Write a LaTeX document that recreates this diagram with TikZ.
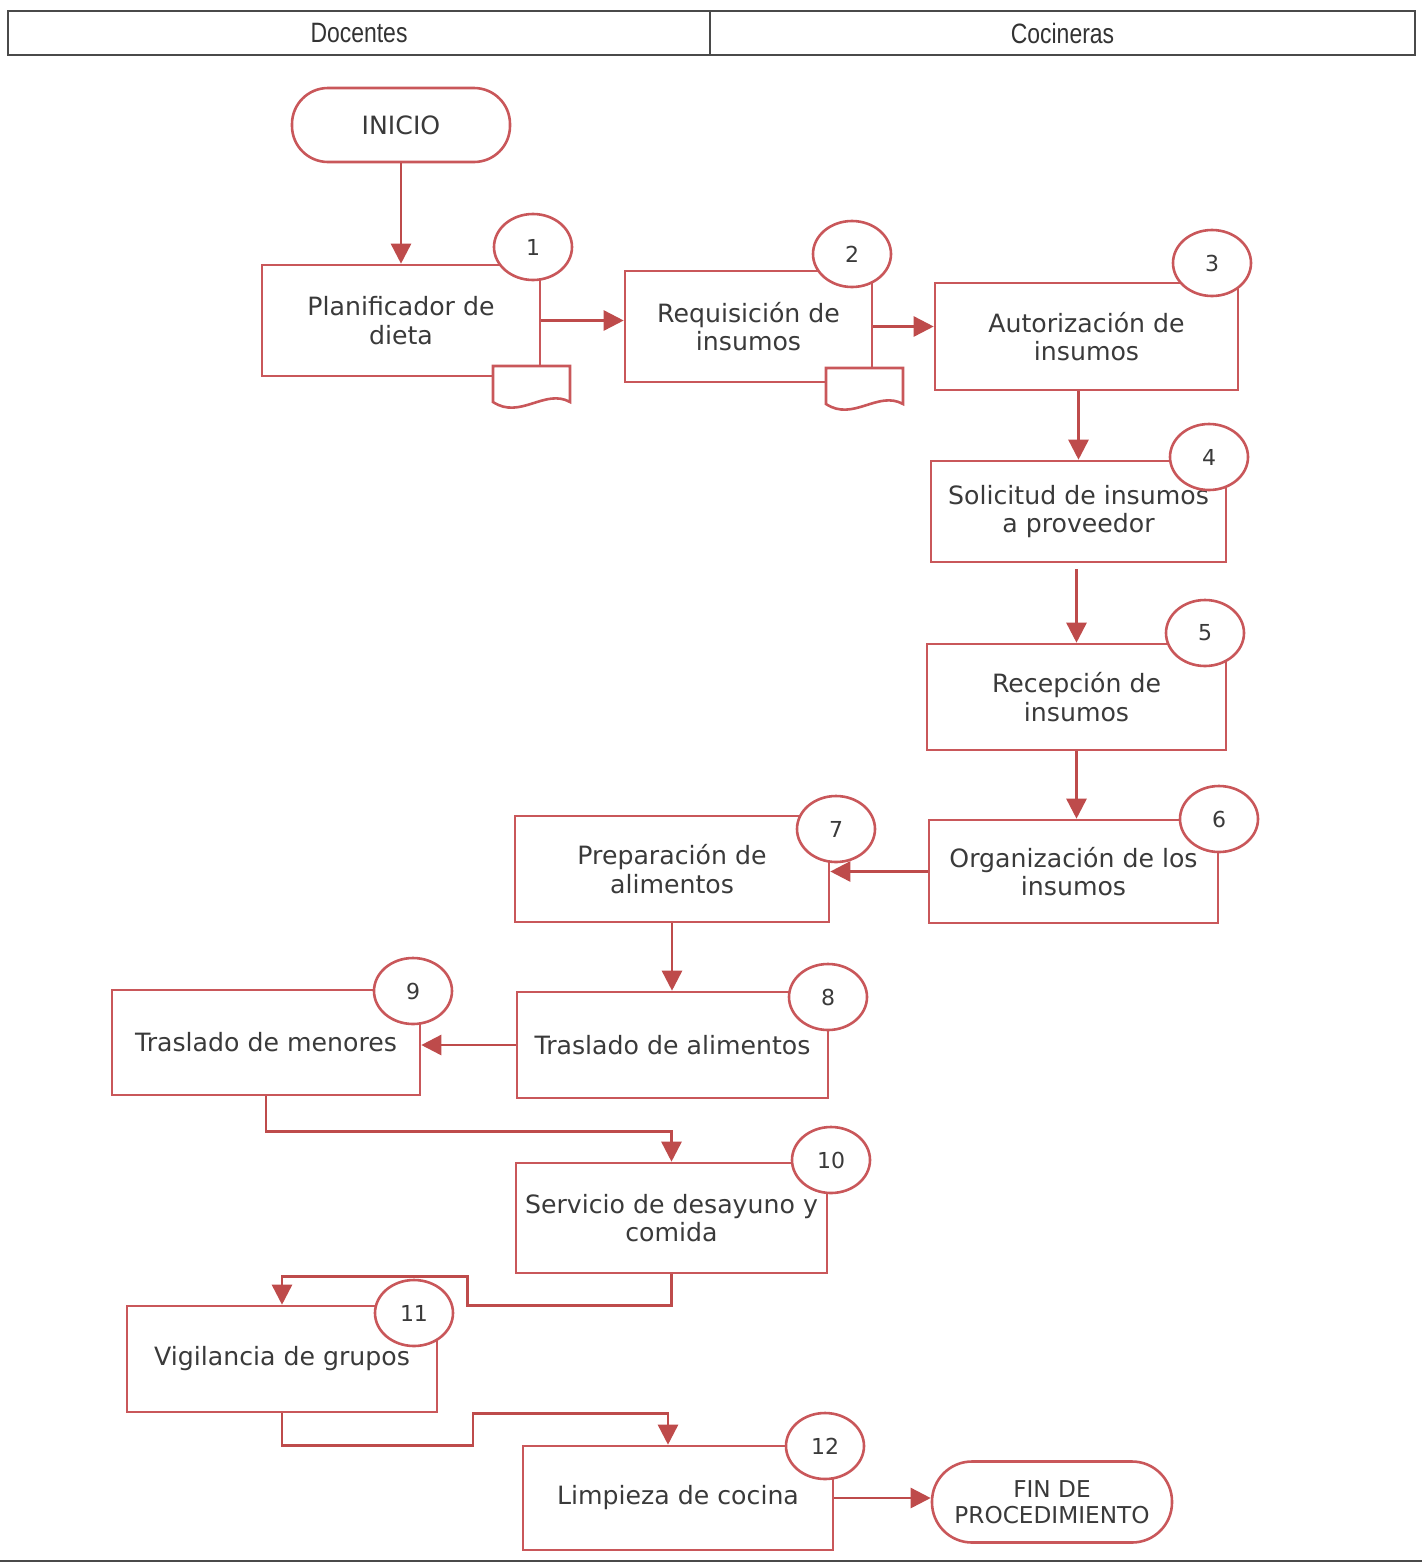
\documentclass[tikz,border=0pt]{standalone}
\usepackage{fontspec}
\usepackage{tikz}
\usetikzlibrary{arrows.meta,positioning,calc,shapes.geometric}
\newfontfamily\flujo{DejaVu Sans}
\newfontfamily\encab[FakeStretch=0.82]{Liberation Sans}
\definecolor{rojo}{HTML}{C9575A}
\definecolor{flecha}{HTML}{BE4B4B}
\definecolor{tinta}{HTML}{3A3A3A}
\definecolor{marco}{HTML}{4A4A4A}
\tikzset{
  paso/.style  ={draw=rojo, line width=1.3pt, rectangle, align=center, inner sep=2pt,
                 text=tinta, font=\flujo\fontsize{12.6}{14.4}\selectfont},
  num/.style   ={draw=rojo, line width=1.3pt, fill=white, ellipse, inner sep=0pt,
                 minimum width=39pt, minimum height=33pt, text=tinta,
                 font=\flujo\fontsize{11}{13}\selectfont},
  term/.style  ={paso, rounded corners=18pt},
  hoja/.style  ={draw=rojo, line width=1.3pt, fill=white},
  carril/.style={draw=marco, line width=1.3pt, rectangle, minimum height=22pt,
                 text=black!80, font=\encab\fontsize{14}{16}\selectfont},
  ar/.style    ={-{Triangle[length=10pt,width=10pt]}, draw=flecha, line width=1.3pt},
}
\begin{document}
\begin{tikzpicture}[x=0.5pt,y=-0.5pt]
\useasboundingbox (0,0) rectangle (1422,1564);
% encabezado
\node[carril, minimum width=351pt] (doc) at (359,33) {Docentes};
\node[carril, minimum width=352.5pt] (coc) at (1062.5,33) {Cocineras};
\draw[marco, line width=1.3pt] (0,1561) -- (1422,1561);
% inicio y fin
\node[term, minimum width=109pt, minimum height=37pt] (ini) at (401,125) {INICIO};
\node[term, minimum width=120pt, minimum height=40.5pt, rounded corners=20pt,
      font=\flujo\fontsize{11.6}{13.2}\selectfont] (fin) at (1052,1502)
  {FIN DE\\PROCEDIMIENTO};
% pasos
\node[paso, minimum width=139pt,   minimum height=55.5pt] (p1)  at (401,320.5)   {Planificador de\\dieta};
\node[paso, minimum width=123.5pt, minimum height=55.5pt] (p2)  at (748.5,326.5) {Requisición de\\insumos};
\node[paso, minimum width=151.5pt, minimum height=53.5pt] (p3)  at (1086.5,336.5){Autorización de\\insumos};
\node[paso, minimum width=147.5pt, minimum height=50.5pt] (p4)  at (1078.5,511.5){Solicitud de insumos\\a proveedor};
\node[paso, minimum width=149.5pt, minimum height=53pt]   (p5)  at (1076.5,697)  {Recepción de\\insumos};
\node[paso, minimum width=144.5pt, minimum height=51.5pt] (p6)  at (1073.5,871.5){Organización de los\\insumos};
\node[paso, minimum width=157pt,   minimum height=53pt]   (p7)  at (672,869)     {Preparación de\\alimentos};
\node[paso, minimum width=155.5pt, minimum height=53pt]   (p8)  at (672.5,1045)  {Traslado de alimentos};
\node[paso, minimum width=154pt,   minimum height=52.5pt] (p9)  at (266,1042.5)  {Traslado de menores};
\node[paso, minimum width=155.5pt, minimum height=55pt]   (p10) at (671.5,1218)  {Servicio de desayuno y\\comida};
\node[paso, minimum width=155pt,   minimum height=53pt]   (p11) at (282,1359)    {Vigilancia de grupos};
\node[paso, minimum width=155pt,   minimum height=52pt]   (p12) at (678,1498)    {Limpieza de cocina};
% documentos
\filldraw[hoja] (493,366) -- (570,366) -- (570,402)
  .. controls (545,388) and (520,420) .. (493,402) -- cycle;
\filldraw[hoja] (826,368) -- (903,368) -- (903,404)
  .. controls (878,390) and (853,422) .. (826,404) -- cycle;
% numeros
\node[num] (n1)  at (533,247)  {1};
\node[num] (n2)  at (852,254)  {2};
\node[num] (n3)  at (1212,263) {3};
\node[num] (n4)  at (1209,457) {4};
\node[num] (n5)  at (1205,633) {5};
\node[num] (n6)  at (1219,819) {6};
\node[num] (n7)  at (836,829)  {7};
\node[num] (n8)  at (828,997)  {8};
\node[num] (n9)  at (413,991)  {9};
\node[num] (n10) at (831,1160) {10};
\node[num] (n11) at (414,1313) {11};
\node[num] (n12) at (825,1446) {12};
% flechas
\draw[ar] (ini.south) -- (p1.north);
\draw[ar] (p1.east) -- (p1.east -| p2.west);
\draw[ar] (p2.east) -- (p2.east -| p3.west);
\draw[ar] (p3.south -| p4.north) -- (p4.north);
\draw[ar] ($(p4.south)+(-2,6)$) -- (p5.north);
\draw[ar] (p5.south) -- (p5.south |- p6.north);
\draw[ar] (p6.west) -- (p6.west -| p7.east);
\draw[ar] (p7.south) -- (p7.south |- p8.north);
\draw[ar] (p8.west) -- (p8.west -| p9.east);
\draw[ar] (p9.south) -- ++(0,35) -| (p10.north);
\draw[ar] (p10.south) -- ++(0,31) -- ++(-204,0) -- ++(0,-29) -| (p11.north);
\draw[ar] (p11.south) -- ++(0,32) -- ++(191,0) -- ++(0,-32) -| ($(p12.north)+(-10,0)$);
\draw[ar] (p12.east) -- (p12.east -| fin.west);
\end{tikzpicture}
\end{document}
